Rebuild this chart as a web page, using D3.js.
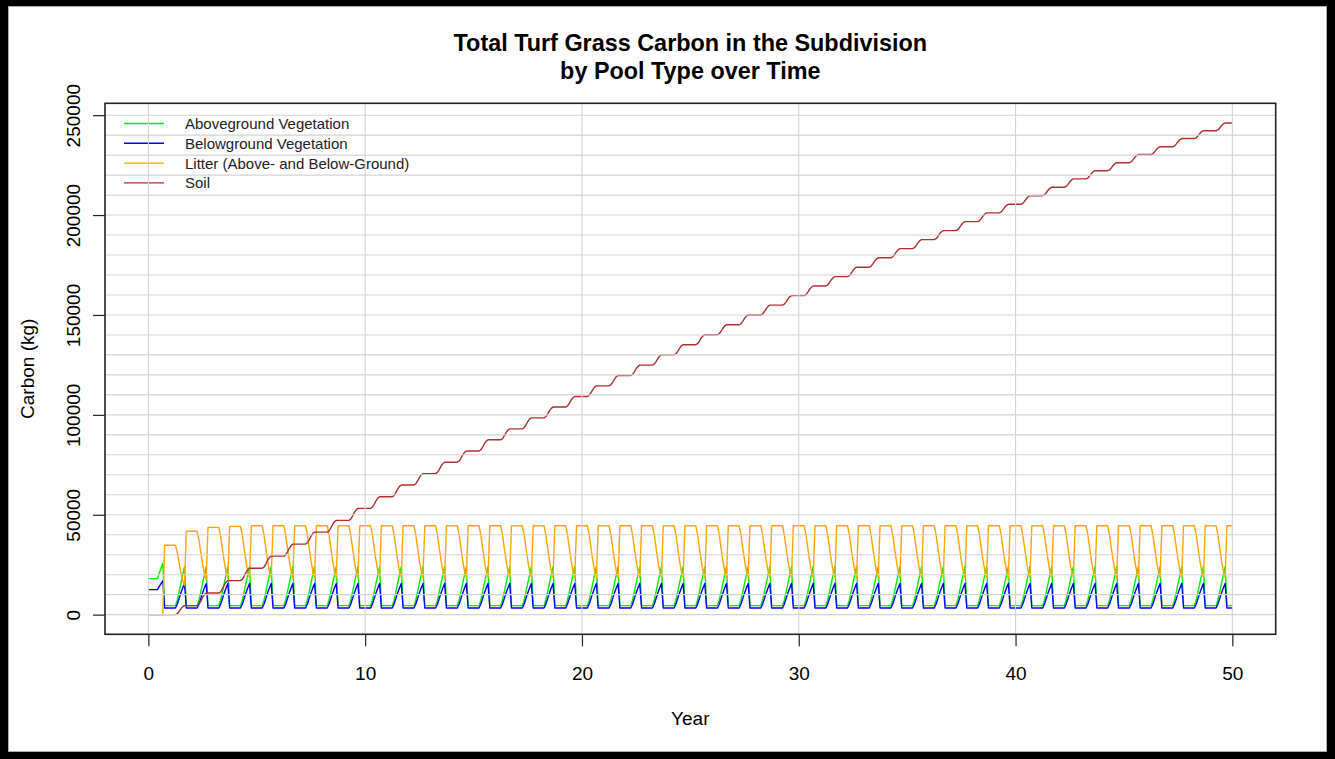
<!DOCTYPE html>
<html lang="en">
<head>
<meta charset="UTF-8">
<title>Total Turf Grass Carbon in the Subdivision</title>
<script src="https://d3js.org/d3.v7.min.js"></script>
<style>
  body { margin: 0; background: #fff; }
  svg { display: block; font-family: "Liberation Sans", Arial, Helvetica, sans-serif; }
</style>
</head>
<body>
<div id="chart"></div>
<script>
// position of each monthly value inside a year
var monthPhase = [0, 0.083, 0.167, 0.25, 0.333, 0.417, 0.5, 0.583, 0.667, 0.75, 0.833, 0.917];

// year 0 (start of simulation)
var aboveYear0 = [18000, 18000, 18000, 18000, 18000, 18000, 20600, 23200, 25800, 4500, 4500, 4500];
var belowYear0 = [12500, 12500, 12500, 12500, 12500, 12500, 14000, 15500, 17000, 3300, 3300, 3300];

// yearly cycle for the following years
var aboveCycle = [4500, 4500, 4500, 4500, 7200, 11400, 15600, 19900, 24000, 4500, 4500, 4500];
var belowCycle = [3300, 3300, 3300, 3300, 5200, 8000, 10800, 13300, 15600, 3300, 3300, 3300];

// litter: plateau reached in autumn of each year, and how it decays during spring/summer
var litterPeaks = [34700, 41700, 43700, 44200, 44500, 44500, 44500, 44500, 44500, 44500,
                   44500, 44500, 44500, 44500, 44500, 44500, 44500, 44500, 44500, 44500,
                   44500, 44500, 44500, 44500, 44500, 44500, 44500, 44500, 44500, 44500,
                   44500, 44500, 44500, 44500, 44500, 44500, 44500, 44500, 44500, 44500,
                   44500, 44500, 44500, 44500, 44500, 44500, 44500, 44500, 44500, 44500];
var litterDecay = [1, 1, 1, 1, 0.9, 0.75, 0.61, 0.49, 0.42];

// soil: level after the summer rise of each year, and shape of the rise
var soilLevels = [0, 4500, 10800, 17000, 23200, 29300, 35300, 41300, 47200, 53200,
                  59000, 64900, 70600, 76300, 81900, 87500, 93000, 98500, 103900, 109200,
                  114500, 119700, 124900, 130000, 135100, 140100, 145100, 150000, 154900, 159700,
                  164500, 169200, 173900, 178600, 183200, 187700, 192200, 196700, 201100, 205400,
                  209700, 213900, 218100, 222200, 226200, 230300, 234200, 238300, 242200, 246100];
var soilRise = [0, 0, 0, 0, 0.1, 0.35, 0.65, 0.88, 1];

var xTicks = [0, 10, 20, 30, 40, 50];
var yTicks = [0, 50000, 100000, 150000, 200000, 250000];

var pools = [
  { name: "Aboveground Vegetation", color: "#00ee00" },
  { name: "Belowground Vegetation", color: "#0000ff" },
  { name: "Litter (Above- and Below-Ground)", color: "#ffa500" },
  { name: "Soil", color: "#b03030" }
];

// build monthly series
var above = [], below = [], litter = [], soil = [];
for (var k = 0; k < soilLevels.length; k++) {
  for (var m = 0; m < 12; m++) {
    var t = k + monthPhase[m];
    if (k === 0) {
      above.push({ t: t, v: aboveYear0[m] });
      below.push({ t: t, v: belowYear0[m] });
      litter.push({ t: t, v: m < 9 ? 0 : litterPeaks[0] });
      soil.push({ t: t, v: 0 });
    } else {
      above.push({ t: t, v: aboveCycle[m] });
      below.push({ t: t, v: belowCycle[m] });
      litter.push({ t: t, v: m < 9 ? litterPeaks[k - 1] * litterDecay[m] : litterPeaks[k] });
      var s0 = soilLevels[k - 1], s1 = soilLevels[k];
      soil.push({ t: t, v: m < 9 ? s0 + (s1 - s0) * soilRise[m] : s1 });
    }
  }
}
var last = soilLevels.length;
above.push({ t: last, v: aboveCycle[0] });
below.push({ t: last, v: belowCycle[0] });
litter.push({ t: last, v: litterPeaks[last - 1] });
soil.push({ t: last, v: soilLevels[last - 1] });
var series = [above, below, litter, soil];

var W = 1335, H = 759;
var svg = d3.select("#chart").append("svg").attr("width", W).attr("height", H);

// frame
svg.append("rect").attr("width", W).attr("height", H).attr("fill", "#000");
svg.append("rect").attr("x", 8).attr("y", 6).attr("width", W - 16).attr("height", H - 13).attr("fill", "#fff");
svg.append("rect").attr("x", 8.5).attr("y", 6.5).attr("width", W - 17).attr("height", H - 14)
  .attr("fill", "none").attr("stroke", "#aaa").attr("stroke-width", 1);

var x = d3.scaleLinear().domain([-2, 52]).range([105, 1275.7]);
var y = d3.scaleLinear().domain([-9844, 255944]).range([634.3, 103.3]);

var line = d3.line().x(function(d) { return x(d.t); }).y(function(d) { return y(d.v); });

// data lines
svg.append("g").selectAll("path")
  .data(series)
  .enter().append("path")
  .attr("d", line)
  .attr("fill", "none")
  .attr("stroke", function(d, i) { return pools[i].color; })
  .attr("stroke-width", 1.4)
  .attr("stroke-linejoin", "round");

// legend (no box)
var legend = svg.append("g");
pools.forEach(function(p, i) {
  var cy = 123.5 + i * 19.8;
  legend.append("line").attr("x1", 124).attr("x2", 164).attr("y1", cy).attr("y2", cy)
    .attr("stroke", p.color).attr("stroke-width", 1.4);
  legend.append("text").attr("x", 185).attr("y", cy + 5.4)
    .attr("font-size", 15).attr("fill", "#222").text(p.name);
});

// grid on top
var grid = svg.append("g").attr("stroke", "#d3d3d3").attr("stroke-width", 1.1);
grid.selectAll(".gx").data(xTicks).enter().append("line")
  .attr("x1", function(d) { return x(d); }).attr("x2", function(d) { return x(d); })
  .attr("y1", 103.3).attr("y2", 634.3);
grid.selectAll(".gy").data(d3.range(0, 250001, 10000)).enter().append("line")
  .attr("x1", 105).attr("x2", 1275.7)
  .attr("y1", function(d) { return y(d); }).attr("y2", function(d) { return y(d); });

// axes
var xAxis = svg.append("g").attr("transform", "translate(0,634.3)")
  .call(d3.axisBottom(x).tickValues(xTicks).tickSize(12).tickPadding(34).tickFormat(d3.format("d")));
var yAxis = svg.append("g").attr("transform", "translate(105,0)")
  .call(d3.axisLeft(y).tickValues(yTicks).tickSize(12).tickFormat(d3.format("d")));
[xAxis, yAxis].forEach(function(a) {
  a.select(".domain").remove();
  a.selectAll(".tick line").attr("stroke", "#222").attr("stroke-width", 1.2);
  a.selectAll("text").attr("font-size", 19).attr("fill", "#000")
    .attr("font-family", "'Liberation Sans', Arial, sans-serif");
});
xAxis.selectAll("text").attr("dy", null).attr("y", 46);
yAxis.selectAll("text")
  .attr("x", null).attr("dy", null)
  .attr("text-anchor", "middle")
  .attr("transform", "translate(-25.5,0) rotate(-90)")
  .attr("y", 0);

// plot box
svg.append("rect").attr("x", 105).attr("y", 103.3).attr("width", 1170.7).attr("height", 531)
  .attr("fill", "none").attr("stroke", "#222").attr("stroke-width", 1.6);

// titles
svg.append("text").attr("x", 690.3).attr("y", 51).attr("text-anchor", "middle")
  .attr("font-size", 23.4).attr("font-weight", "bold").text("Total Turf Grass Carbon in the Subdivision");
svg.append("text").attr("x", 690.3).attr("y", 79).attr("text-anchor", "middle")
  .attr("font-size", 23.4).attr("font-weight", "bold").text("by Pool Type over Time");
svg.append("text").attr("x", 690.3).attr("y", 725).attr("text-anchor", "middle")
  .attr("font-size", 19).text("Year");
svg.append("text").attr("transform", "translate(34,368.8) rotate(-90)").attr("text-anchor", "middle")
  .attr("font-size", 19).text("Carbon (kg)");
</script>
</body>
</html>
